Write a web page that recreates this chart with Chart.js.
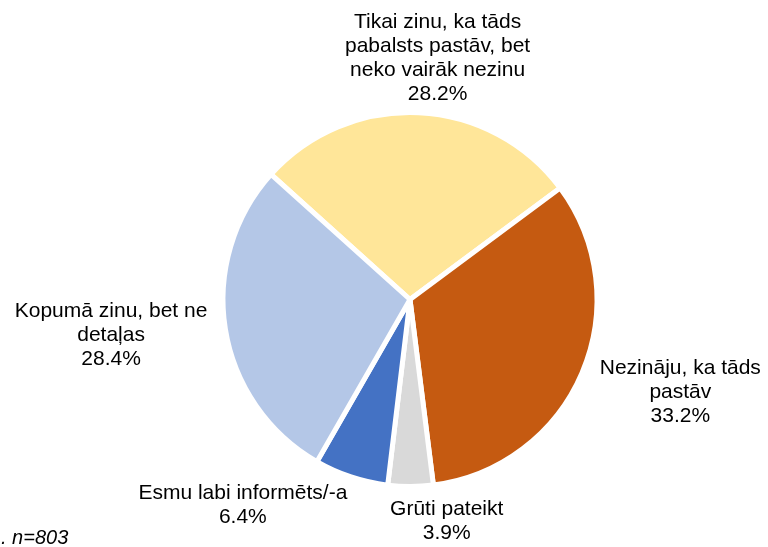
<!DOCTYPE html>
<html>
<head>
<meta charset="utf-8">
<script src="https://cdn.jsdelivr.net/npm/chart.js@4"></script>
<style>
  body { margin: 0; background: #fff; }
  #wrap { width: 768px; height: 547px; position: relative; }
</style>
</head>
<body>
<div id="wrap"><canvas id="pie" width="768" height="547"></canvas></div>
<script>
// answers, in the order they go round the pie (clockwise from the yellow one)
const answers = [
  ["Tikai zinu, ka tāds", "pabalsts pastāv, bet", "neko vairāk nezinu"],
  ["Nezināju, ka tāds", "pastāv"],
  ["Grūti pateikt"],
  ["Esmu labi informēts/-a"],
  ["Kopumā zinu, bet ne", "detaļas"]
];
const shares = [28.2, 33.2, 3.9, 6.4, 28.4]; // percent
const sliceColors = ["#FFE699", "#C55A11", "#D9D9D9", "#4472C4", "#B4C7E7"];
const footnote = ". n=803";

// where excel pushed each label, relative to the spot just outside its slice
const labelNudge = [[16, 3], [45, -3], [36, -23], [-90, -27], [-57, -3]];

// draws the outside labels (name lines + percent) for every slice
const outsideLabels = {
  id: 'outsideLabels',
  afterDraw(chart) {
    const ctx = chart.ctx;
    const arcs = chart.getDatasetMeta(0).data;
    ctx.save();
    ctx.fillStyle = '#000';
    ctx.font = '21px "Liberation Sans", Arial, sans-serif';
    ctx.textAlign = 'center';
    ctx.textBaseline = 'middle';
    const lineH = 24;
    arcs.forEach((arc, i) => {
      const mid = (arc.startAngle + arc.endAngle) / 2;
      const r = arc.outerRadius + 58;
      const cx = arc.x + Math.cos(mid) * r + labelNudge[i][0];
      const cy = arc.y + Math.sin(mid) * r + labelNudge[i][1];
      const lines = answers[i].concat([shares[i].toFixed(1) + '%']);
      const top = cy - (lines.length - 1) * lineH / 2;
      lines.forEach((t, j) => ctx.fillText(t, cx, top + j * lineH));
    });
    // sample size note, bottom left (cut off in the original)
    ctx.textAlign = 'left';
    ctx.textBaseline = 'alphabetic';
    ctx.font = 'italic 20px "Liberation Sans", Arial, sans-serif';
    ctx.fillText(footnote, 1, 544);
    ctx.restore();
  }
};

new Chart(document.getElementById('pie'), {
  type: 'pie',
  data: {
    labels: answers.map(a => a.join(' ')),
    datasets: [{
      data: shares,
      backgroundColor: sliceColors,
      borderColor: '#fff',
      borderWidth: 5
    }]
  },
  options: {
    responsive: false,
    animation: false,
    rotation: -48,
    layout: { padding: { left: 220, right: 168, top: 110, bottom: 58 } },
    plugins: {
      legend: { display: false },
      tooltip: { enabled: false }
    }
  },
  plugins: [outsideLabels]
});
</script>
</body>
</html>
